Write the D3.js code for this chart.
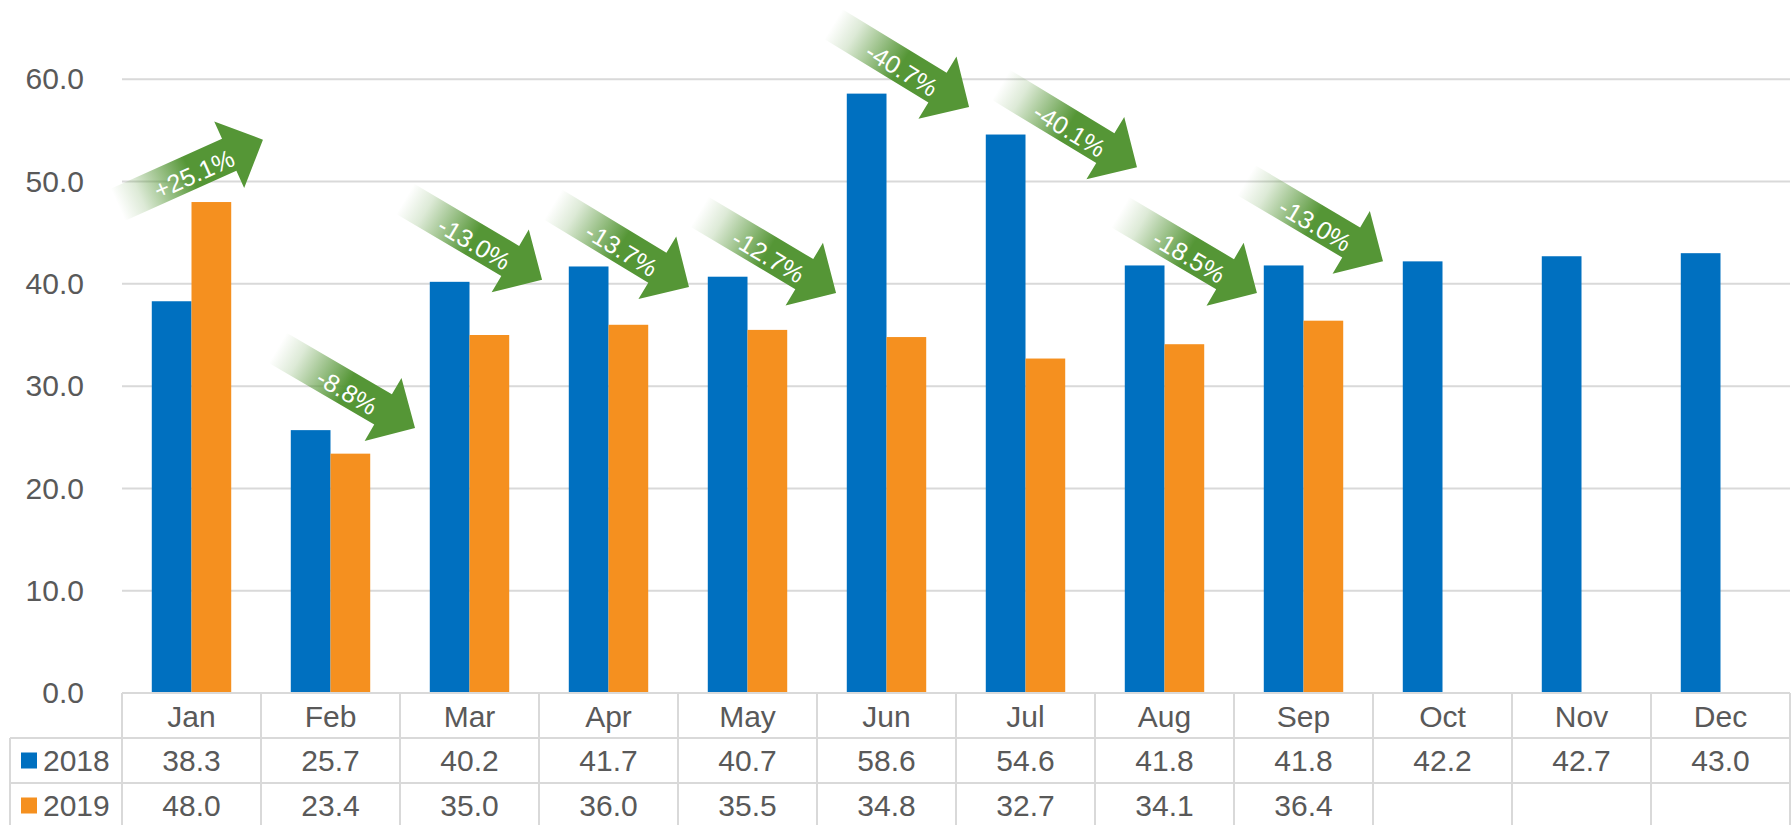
<!DOCTYPE html>
<html>
<head>
<meta charset="utf-8">
<script src="https://cdn.jsdelivr.net/npm/d3@7"></script>
<style>
  html, body { margin: 0; padding: 0; background: #ffffff; }
  svg { display: block; font-family: "Liberation Sans", Arial, sans-serif; }
</style>
</head>
<body>
<svg id="chart" width="1791" height="825"></svg>
<script>
// ---- data ----
const months = ["Jan", "Feb", "Mar", "Apr", "May", "Jun", "Jul", "Aug", "Sep", "Oct", "Nov", "Dec"];
const seriesNames = ["2018", "2019"];
const values2018 = [38.3, 25.7, 40.2, 41.7, 40.7, 58.6, 54.6, 41.8, 41.8, 42.2, 42.7, 43.0];
const values2019 = [48.0, 23.4, 35.0, 36.0, 35.5, 34.8, 32.7, 34.1, 36.4, null, null, null];
const yTicks = [0, 10, 20, 30, 40, 50, 60];
// year-over-year change annotations (arrows)
const changeLabels = ["+25.1%", "-8.8%", "-13.0%", "-13.7%", "-12.7%", "-40.7%", "-40.1%", "-18.5%", "-13.0%"];
const arrowTipMonthPos = [1.014, 2.108, 3.022, 4.079, 5.137, 6.094, 7.302, 8.165, 9.072];
const arrowTipValue = [54.1, 25.9, 40.4, 39.7, 39.1, 57.3, 51.4, 39.1, 42.2];
const arrowAngle = [-24.2, 30.3, 30.6, 31.2, 30.8, 31.4, 31.2, 30.6, 30.7];

const colors = { "2018": "#0070C0", "2019": "#F5901F" };
const gridColor = "#D9D9D9";
const textColor = "#595959";
const green = "#559636";
const fs = 30;

// ---- layout ----
const plotLeft = 122, plotRight = 1790, plotTop = 79.3, plotBase = 693;
const rowH = 45;

const svg = d3.select("#chart");

const x = d3.scaleBand().domain(months).range([plotLeft, plotRight]).padding(0);
const xPos = d3.scaleLinear().domain([0, months.length]).range([plotLeft, plotRight]);
const y = d3.scaleLinear().domain([0, 60]).range([plotBase, plotTop]);
const bw = x.bandwidth();
const barW = bw / 3.5; // gap width 150%
const xSub = d3.scaleBand().domain(seriesNames)
  .range([(bw - 2 * barW) / 2, (bw + 2 * barW) / 2]).padding(0);

// gradient for arrows
const defs = svg.append("defs");
const grad = defs.append("linearGradient").attr("id", "arrowGrad")
  .attr("x1", 0).attr("y1", 0).attr("x2", 1).attr("y2", 0);
grad.append("stop").attr("offset", "0%").attr("stop-color", green).attr("stop-opacity", 0);
grad.append("stop").attr("offset", "15%").attr("stop-color", green).attr("stop-opacity", 0.2);
grad.append("stop").attr("offset", "50%").attr("stop-color", green).attr("stop-opacity", 1);
grad.append("stop").attr("offset", "100%").attr("stop-color", green).attr("stop-opacity", 1);

// gridlines
svg.append("g").selectAll("line").data(yTicks.filter(t => t > 0)).join("line")
  .attr("x1", plotLeft).attr("x2", plotRight)
  .attr("y1", d => y(d)).attr("y2", d => y(d))
  .attr("stroke", gridColor).attr("stroke-width", 2);

// y axis labels
const yAxis = d3.axisLeft(y).tickValues(yTicks).tickFormat(d3.format(".1f")).tickSize(0).tickPadding(0);
const yg = svg.append("g").attr("transform", `translate(84,0)`).call(yAxis);
yg.select(".domain").remove();
yg.selectAll("text").attr("font-size", fs).attr("fill", textColor)
  .attr("font-family", "'Liberation Sans', Arial, sans-serif");

// bars
const barData = [];
months.forEach((m, i) => {
  barData.push({ m, s: "2018", v: values2018[i] });
  if (values2019[i] != null) barData.push({ m, s: "2019", v: values2019[i] });
});
svg.append("g").selectAll("rect").data(barData).join("rect")
  .attr("x", d => x(d.m) + xSub(d.s))
  .attr("width", xSub.bandwidth())
  .attr("y", d => y(d.v))
  .attr("height", d => y(0) - y(d.v))
  .attr("fill", d => colors[d.s]);

// table
const tbl = svg.append("g");
const lineAttr = sel => sel.attr("stroke", gridColor).attr("stroke-width", 2);
tbl.append("line").attr("x1", plotLeft).attr("x2", plotRight).attr("y1", plotBase).attr("y2", plotBase).call(lineAttr);
[plotBase + rowH, plotBase + 2 * rowH].forEach(yy => {
  tbl.append("line").attr("x1", 10).attr("x2", plotRight).attr("y1", yy).attr("y2", yy).call(lineAttr);
});
const vx = months.map(m => x(m)).concat([plotRight]);
vx.forEach(xx => {
  tbl.append("line").attr("x1", xx).attr("x2", xx).attr("y1", plotBase).attr("y2", 830).call(lineAttr);
});
tbl.append("line").attr("x1", 10).attr("x2", 10).attr("y1", plotBase + rowH).attr("y2", 830).call(lineAttr);

// header labels
tbl.selectAll("text.mon").data(months).join("text").attr("class", "mon")
  .attr("x", d => x(d) + bw / 2).attr("y", plotBase + 34)
  .attr("text-anchor", "middle").attr("font-size", fs).attr("fill", textColor).text(d => d);

// value rows
const rows = [
  { name: "2018", vals: values2018 },
  { name: "2019", vals: values2019 }
];
rows.forEach((r, ri) => {
  const yb = plotBase + rowH * (ri + 1) + 33;
  tbl.append("rect").attr("x", 21).attr("y", plotBase + rowH * (ri + 1) + 14.5)
    .attr("width", 16).attr("height", 16).attr("fill", colors[r.name]);
  tbl.append("text").attr("x", 43).attr("y", yb).attr("font-size", fs)
    .attr("fill", textColor).text(r.name);
  tbl.selectAll(null).data(months).join("text")
    .attr("x", d => x(d) + bw / 2).attr("y", yb)
    .attr("text-anchor", "middle").attr("font-size", fs).attr("fill", textColor)
    .text((d, i) => r.vals[i] == null ? "" : d3.format(".1f")(r.vals[i]));
});

// arrows
const L = 159, h1 = 17.5, h2 = 36.5, hl = 37;
const arrowPath = `M${-L},${-h1} L${-hl},${-h1} L${-hl},${-h2} L0,0 L${-hl},${h2} L${-hl},${h1} L${-L},${h1} Z`;
const ag = svg.append("g").selectAll("g").data(changeLabels).join("g")
  .attr("transform", (d, i) => `translate(${xPos(arrowTipMonthPos[i])},${y(arrowTipValue[i])}) rotate(${arrowAngle[i]})`);
ag.append("path").attr("d", arrowPath).attr("fill", "url(#arrowGrad)");
ag.append("text").attr("x", -L + 82).attr("y", 3)
  .attr("text-anchor", "middle").attr("dominant-baseline", "central")
  .attr("font-size", 25).attr("fill", "#ffffff").text(d => d);
</script>
</body>
</html>
